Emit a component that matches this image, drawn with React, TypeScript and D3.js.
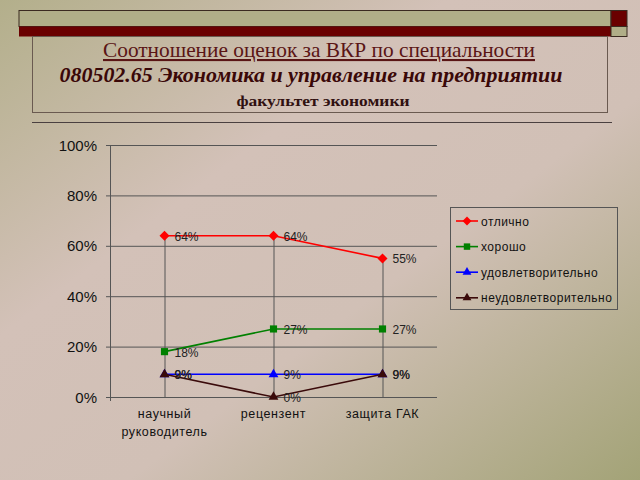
import React from "react";
import * as d3 from "d3";

const categories = [["научный", "руководитель"], ["рецензент"], ["защита ГАК"]];
const seriesNames = ["отлично", "хорошо", "удовлетворительно", "неудовлетворительно"];
const otlichno = [64, 64, 55];
const khorosho = [18, 27, 27];
const udovl = [9, 9, 9];
const neudovl = [9, 0, 9];
const yTicks = [0, 20, 40, 60, 80, 100];
const titleLines = [
  "Соотношение оценок за ВКР по специальности",
  "080502.65 Экономика и управление на предприятии",
  "факультет экономики",
];

const seriesValues = [otlichno, khorosho, udovl, neudovl];
const colors = ["#ff0000", "#008000", "#0000ff", "#3a0a0a"];
const markers = ["diamond", "square", "triangle", "triangle"];

const markerPath = (m: string, s: number) => {
  if (m === "diamond") return `M0,${-s}L${s},0L0,${s}L${-s},0Z`;
  if (m === "square") return d3.symbol().type(d3.symbolSquare).size(s * s * 3.2)() as string;
  return d3.symbol().type(d3.symbolTriangle).size(s * s * 2.6)() as string;
};

export default function App() {
  const W = 640, H = 480;
  const x = d3.scaleBand<number>().domain([0, 1, 2]).range([110, 437]);
  const y = d3.scaleLinear().domain([0, 100]).range([397, 145]);
  const cx = (i: number) => (x(i) as number) + x.bandwidth() / 2;
  const line = d3.line<number>().x((_, i) => cx(i)).y((v) => y(v));
  const maxes = [0, 1, 2].map((i) => d3.max(seriesValues, (s) => s[i]) as number);
  const font = "'Liberation Sans', Arial, sans-serif";
  const serif = "'Liberation Serif', 'Times New Roman', serif";

  return (
    <svg width={W} height={H} style={{ position: "fixed", left: 0, top: 0 }}>
      <defs>
        <linearGradient id="bg" x1="0" y1="0" x2="1" y2="1">
          <stop offset="0" stopColor="#b3af8b" />
          <stop offset="0.35" stopColor="#d3c1b8" />
          <stop offset="0.6" stopColor="#d1c0b6" />
          <stop offset="1" stopColor="#a3a377" />
        </linearGradient>
      </defs>
      <rect x={0} y={0} width={W} height={H} fill="url(#bg)" />

      {/* top decoration */}
      <rect x={19} y={10.5} width={592} height={16} fill="#b0ae88" stroke="#3a2a20" strokeWidth={1} />
      <rect x={19} y={26.5} width={592} height={10} fill="#6a0000" />
      <rect x={611} y={10.5} width={16} height={16} fill="#6a0000" stroke="#3a2a20" strokeWidth={1} />
      <rect x={611} y={26.5} width={16} height={10} fill="#b0ae88" stroke="#3a2a20" strokeWidth={1} />

      {/* title box */}
      <rect x={32.5} y={36.5} width={575} height={76} fill="none" stroke="#6a5a50" strokeWidth={1} />
      <line x1={32} x2={612} y1={122.5} y2={122.5} stroke="#4a4040" strokeWidth={1.2} />
      <text x={319} y={57} textAnchor="middle" fontFamily={serif} fontSize={21} fill="#5a1515"
        textLength={432} lengthAdjust="spacingAndGlyphs" style={{ textDecoration: "underline" }}>
        {titleLines[0]}
      </text>
      <text x={311} y={82} textAnchor="middle" fontFamily={serif} fontSize={20.5} fontWeight="bold"
        fontStyle="italic" fill="#3a0808" textLength={503} lengthAdjust="spacingAndGlyphs">
        {titleLines[1]}
      </text>
      <text x={323} y={106} textAnchor="middle" fontFamily={serif} fontSize={15} fontWeight="bold"
        fill="#301010" textLength={173} lengthAdjust="spacingAndGlyphs">
        {titleLines[2]}
      </text>

      {/* grid */}
      {yTicks.map((t) => (
        <g key={t}>
          <line x1={106} x2={437} y1={y(t) + 0.5} y2={y(t) + 0.5} stroke="#555" strokeWidth={1} />
          <text x={97} y={y(t) + 5.5} textAnchor="end" fontFamily={font} fontSize={15} fill="#111">
            {t}%
          </text>
        </g>
      ))}
      <line x1={110.5} x2={110.5} y1={145} y2={401} stroke="#555" strokeWidth={1} />
      {[0, 1, 2].map((i) => (
        <line key={i} x1={cx(i) + 0.5} x2={cx(i) + 0.5} y1={y(maxes[i])} y2={y(0)} stroke="#555" strokeWidth={1} />
      ))}

      {/* category labels */}
      {categories.map((c, i) =>
        c.map((s, j) => (
          <text key={i + "-" + j} x={cx(i)} y={418 + j * 18} textAnchor="middle" fontFamily={font}
            fontSize={12.5} letterSpacing={0.6} fill="#111">
            {s}
          </text>
        ))
      )}

      {/* series */}
      {seriesValues.map((vals, si) => (
        <g key={si}>
          <path d={line(vals) as string} fill="none" stroke={colors[si]} strokeWidth={1.6} />
          {vals.map((v, i) => (
            <path key={i} transform={`translate(${cx(i)},${y(v)})`}
              d={markerPath(markers[si], markers[si] === "diamond" ? 5 : 4)} fill={colors[si]} />
          ))}
        </g>
      ))}
      {seriesValues.map((vals, si) =>
        vals.map((v, i) => (
          <text key={si + "-" + i} x={cx(i) + 10} y={y(v) + 5} fontFamily={font} fontSize={12} fill="#222">
            {v}%
          </text>
        ))
      )}

      {/* legend */}
      <rect x={450.5} y={207.5} width={167} height={102} fill="none" stroke="#555" strokeWidth={1} />
      {seriesNames.map((n, si) => {
        const ly = 221 + si * 25.6;
        return (
          <g key={n}>
            <line x1={456} x2={478} y1={ly} y2={ly} stroke={colors[si]} strokeWidth={1.6} />
            <path transform={`translate(467,${ly})`}
              d={markerPath(markers[si], markers[si] === "diamond" ? 4.5 : 3.6)} fill={colors[si]} />
            <text x={481} y={ly + 4.5} fontFamily={font} fontSize={12} letterSpacing={0.5} fill="#111">
              {n}
            </text>
          </g>
        );
      })}
    </svg>
  );
}
